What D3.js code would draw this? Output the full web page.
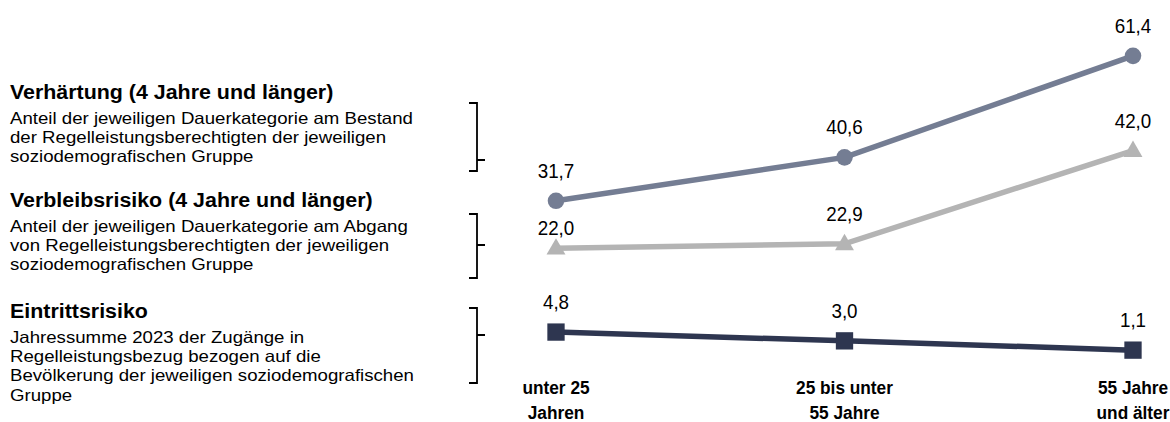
<!DOCTYPE html>
<html><head><meta charset="utf-8">
<script src="https://cdn.jsdelivr.net/npm/d3@7"></script>
<style>
html,body{margin:0;padding:0;background:#fff;}
svg{display:block;font-family:"Liberation Sans",Arial,sans-serif;}
</style></head>
<body>
<svg id="chart" width="1170" height="422"></svg>
<script>
// ---- data ----
const categories = ["unter 25 Jahren", "25 bis unter 55 Jahre", "55 Jahre und älter"];
const categoryLines = [["unter 25", "Jahren"], ["25 bis unter", "55 Jahre"], ["55 Jahre", "und älter"]];
const verhaertung = [31.7, 40.6, 61.4];
const verbleibsrisiko = [22.0, 22.9, 42.0];
const eintrittsrisiko = [4.8, 3.0, 1.1];
const seriesNames = ["Verhärtung (4 Jahre und länger)", "Verbleibsrisiko (4 Jahre und länger)", "Eintrittsrisiko"];
const seriesNotes = [
  ["Anteil der jeweiligen Dauerkategorie am Bestand", "der Regelleistungsberechtigten der jeweiligen", "soziodemografischen Gruppe"],
  ["Anteil der jeweiligen Dauerkategorie am Abgang", "von Regelleistungsberechtigten der jeweiligen", "soziodemografischen Gruppe"],
  ["Jahressumme 2023 der Zugänge in", "Regelleistungsbezug bezogen auf die", "Bevölkerung der jeweiligen soziodemografischen", "Gruppe"]
];

const svg = d3.select("#chart");
const x = d3.scalePoint().domain(categories).range([556, 1133]);
const y = d3.scaleLinear().domain([0, 70]).range([355.5, 13.9]);
const fmt = d3.formatLocale({decimal: ",", thousands: ".", grouping: [3], currency: ["", "€"]}).format(".1f");

const series = [
  {name: seriesNames[0], values: verhaertung, color: "#747d93", marker: "circle"},
  {name: seriesNames[1], values: verbleibsrisiko, color: "#b4b4b4", marker: "triangle"},
  {name: seriesNames[2], values: eintrittsrisiko, color: "#2e3650", marker: "square"}
];

// draw order: gray first, then slate, then dark
const order = [1, 0, 2];
const line = d3.line().x((d, i) => x(categories[i])).y(d => y(d));
order.forEach(si => {
  const s = series[si];
  const g = svg.append("g");
  g.append("path").attr("d", line(s.values)).attr("fill", "none")
    .attr("stroke", s.color).attr("stroke-width", 5.5);
  const sym = s.marker === "circle" ? d3.symbolCircle : s.marker === "triangle" ? d3.symbolTriangle : d3.symbolSquare;
  const size = s.marker === "circle" ? 215 : s.marker === "triangle" ? 155 : 300;
  g.selectAll("path.m").data(s.values).join("path").attr("class", "m")
    .attr("transform", (d, i) => `translate(${x(categories[i])},${y(d) + (s.marker === "triangle" ? 1 : 0)})`)
    .attr("d", d3.symbol(sym, size)).attr("fill", s.color);
});

// value labels
series.forEach((s, si) => {
  svg.append("g").selectAll("text").data(s.values).join("text")
    .attr("transform", (d, i) => `translate(${x(categories[i])},${y(d) - ((si === 1 && i === 0) ? 20 : 30)}) scale(0.94,1)`)
    .attr("dy", "0.35em")
    .attr("text-anchor", "middle")
    .attr("font-size", 20).attr("fill", "#000")
    .text(d => fmt(d));
});

// category labels
const cat = svg.append("g");
categories.forEach((c, i) => {
  const t = cat.append("text").attr("transform", `translate(${x(c)},388) scale(0.96,1)`).attr("text-anchor", "middle")
    .attr("font-size", 18).attr("font-weight", "bold").attr("fill", "#000");
  categoryLines[i].forEach((l, j) => t.append("tspan").attr("x", 0).attr("y", j * 25).attr("dy", "0.35em").text(l));
});

// left descriptions
const titleY = [92, 200, 311];
const bracket = [[103, 171, 160], [214, 278, 245], [308, 383, 335]];
const leg = svg.append("g");
series.forEach((s, si) => {
  leg.append("text").attr("transform", `translate(10,${titleY[si]}) scale(1.07,1)`).attr("dy", "0.35em")
    .attr("font-size", 20).attr("font-weight", "bold").text(s.name);
  seriesNotes[si].forEach((l, j) => {
    leg.append("text").attr("transform", `translate(10,${titleY[si] + 26 + j * 19.3}) scale(1.13,1)`).attr("dy", "0.35em")
      .attr("font-size", 16.5).text(l);
  });
  const [t, b, m] = bracket[si];
  leg.append("path").attr("d", `M469,${t}H477V${b}H469M477,${m}H485`)
    .attr("fill", "none").attr("stroke", "#000").attr("stroke-width", 1.8);
});
</script>
</body></html>
